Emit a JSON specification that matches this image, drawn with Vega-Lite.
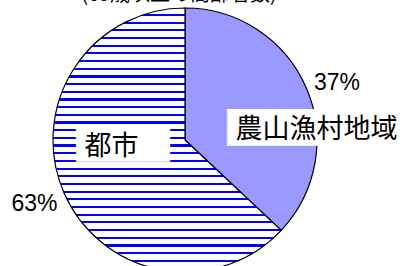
{
  "$schema": "https://vega.github.io/schema/vega-lite/v6.json",
  "width": 264,
  "height": 264,
  "autosize": "none",
  "padding": {"left": 53, "top": 8, "right": 86, "bottom": 0},
  "background": "white",
  "config": {"view": {"stroke": null}},
  "data": {"values": [
    {"region": "農山漁村地域", "share": 37, "label": "37%"},
    {"region": "都市", "share": 63, "label": "63%"}
  ]},
  "layer": [
    {
      "mark": {"type": "arc", "stroke": "#000", "strokeWidth": 1.2},
      "encoding": {
        "theta": {"field": "share", "type": "quantitative", "stack": true},
        "order": {"field": "region", "sort": "ascending"},
        "fill": {
          "condition": {"test": "datum.region === '都市'", "value": {
            "gradient": "linear", "x1": 0, "y1": 0, "x2": 0, "y2": 1,
            "stops": [
              {"offset": 0, "color": "#ffffff"},
              {"offset": 0.0223, "color": "#ffffff"}, {"offset": 0.0223, "color": "#0000ff"}, {"offset": 0.0307, "color": "#0000ff"}, {"offset": 0.0307, "color": "#ffffff"},
              {"offset": 0.0514, "color": "#ffffff"}, {"offset": 0.0514, "color": "#0000ff"}, {"offset": 0.0598, "color": "#0000ff"}, {"offset": 0.0598, "color": "#ffffff"},
              {"offset": 0.0805, "color": "#ffffff"}, {"offset": 0.0805, "color": "#0000ff"}, {"offset": 0.0889, "color": "#0000ff"}, {"offset": 0.0889, "color": "#ffffff"},
              {"offset": 0.1096, "color": "#ffffff"}, {"offset": 0.1096, "color": "#0000ff"}, {"offset": 0.1180, "color": "#0000ff"}, {"offset": 0.1180, "color": "#ffffff"},
              {"offset": 0.1387, "color": "#ffffff"}, {"offset": 0.1387, "color": "#0000ff"}, {"offset": 0.1470, "color": "#0000ff"}, {"offset": 0.1470, "color": "#ffffff"},
              {"offset": 0.1678, "color": "#ffffff"}, {"offset": 0.1678, "color": "#0000ff"}, {"offset": 0.1761, "color": "#0000ff"}, {"offset": 0.1761, "color": "#ffffff"},
              {"offset": 0.1969, "color": "#ffffff"}, {"offset": 0.1969, "color": "#0000ff"}, {"offset": 0.2052, "color": "#0000ff"}, {"offset": 0.2052, "color": "#ffffff"},
              {"offset": 0.2260, "color": "#ffffff"}, {"offset": 0.2260, "color": "#0000ff"}, {"offset": 0.2343, "color": "#0000ff"}, {"offset": 0.2343, "color": "#ffffff"},
              {"offset": 0.2551, "color": "#ffffff"}, {"offset": 0.2551, "color": "#0000ff"}, {"offset": 0.2634, "color": "#0000ff"}, {"offset": 0.2634, "color": "#ffffff"},
              {"offset": 0.2842, "color": "#ffffff"}, {"offset": 0.2842, "color": "#0000ff"}, {"offset": 0.2925, "color": "#0000ff"}, {"offset": 0.2925, "color": "#ffffff"},
              {"offset": 0.3132, "color": "#ffffff"}, {"offset": 0.3132, "color": "#0000ff"}, {"offset": 0.3216, "color": "#0000ff"}, {"offset": 0.3216, "color": "#ffffff"},
              {"offset": 0.3423, "color": "#ffffff"}, {"offset": 0.3423, "color": "#0000ff"}, {"offset": 0.3507, "color": "#0000ff"}, {"offset": 0.3507, "color": "#ffffff"},
              {"offset": 0.3714, "color": "#ffffff"}, {"offset": 0.3714, "color": "#0000ff"}, {"offset": 0.3798, "color": "#0000ff"}, {"offset": 0.3798, "color": "#ffffff"},
              {"offset": 0.4005, "color": "#ffffff"}, {"offset": 0.4005, "color": "#0000ff"}, {"offset": 0.4089, "color": "#0000ff"}, {"offset": 0.4089, "color": "#ffffff"},
              {"offset": 0.4296, "color": "#ffffff"}, {"offset": 0.4296, "color": "#0000ff"}, {"offset": 0.4380, "color": "#0000ff"}, {"offset": 0.4380, "color": "#ffffff"},
              {"offset": 0.4587, "color": "#ffffff"}, {"offset": 0.4587, "color": "#0000ff"}, {"offset": 0.4671, "color": "#0000ff"}, {"offset": 0.4671, "color": "#ffffff"},
              {"offset": 0.4878, "color": "#ffffff"}, {"offset": 0.4878, "color": "#0000ff"}, {"offset": 0.4962, "color": "#0000ff"}, {"offset": 0.4962, "color": "#ffffff"},
              {"offset": 0.5169, "color": "#ffffff"}, {"offset": 0.5169, "color": "#0000ff"}, {"offset": 0.5253, "color": "#0000ff"}, {"offset": 0.5253, "color": "#ffffff"},
              {"offset": 0.5460, "color": "#ffffff"}, {"offset": 0.5460, "color": "#0000ff"}, {"offset": 0.5543, "color": "#0000ff"}, {"offset": 0.5543, "color": "#ffffff"},
              {"offset": 0.5751, "color": "#ffffff"}, {"offset": 0.5751, "color": "#0000ff"}, {"offset": 0.5834, "color": "#0000ff"}, {"offset": 0.5834, "color": "#ffffff"},
              {"offset": 0.6042, "color": "#ffffff"}, {"offset": 0.6042, "color": "#0000ff"}, {"offset": 0.6125, "color": "#0000ff"}, {"offset": 0.6125, "color": "#ffffff"},
              {"offset": 0.6333, "color": "#ffffff"}, {"offset": 0.6333, "color": "#0000ff"}, {"offset": 0.6416, "color": "#0000ff"}, {"offset": 0.6416, "color": "#ffffff"},
              {"offset": 0.6624, "color": "#ffffff"}, {"offset": 0.6624, "color": "#0000ff"}, {"offset": 0.6707, "color": "#0000ff"}, {"offset": 0.6707, "color": "#ffffff"},
              {"offset": 0.6914, "color": "#ffffff"}, {"offset": 0.6914, "color": "#0000ff"}, {"offset": 0.6998, "color": "#0000ff"}, {"offset": 0.6998, "color": "#ffffff"},
              {"offset": 0.7205, "color": "#ffffff"}, {"offset": 0.7205, "color": "#0000ff"}, {"offset": 0.7289, "color": "#0000ff"}, {"offset": 0.7289, "color": "#ffffff"},
              {"offset": 0.7496, "color": "#ffffff"}, {"offset": 0.7496, "color": "#0000ff"}, {"offset": 0.7580, "color": "#0000ff"}, {"offset": 0.7580, "color": "#ffffff"},
              {"offset": 0.7787, "color": "#ffffff"}, {"offset": 0.7787, "color": "#0000ff"}, {"offset": 0.7871, "color": "#0000ff"}, {"offset": 0.7871, "color": "#ffffff"},
              {"offset": 0.8078, "color": "#ffffff"}, {"offset": 0.8078, "color": "#0000ff"}, {"offset": 0.8162, "color": "#0000ff"}, {"offset": 0.8162, "color": "#ffffff"},
              {"offset": 0.8369, "color": "#ffffff"}, {"offset": 0.8369, "color": "#0000ff"}, {"offset": 0.8453, "color": "#0000ff"}, {"offset": 0.8453, "color": "#ffffff"},
              {"offset": 0.8660, "color": "#ffffff"}, {"offset": 0.8660, "color": "#0000ff"}, {"offset": 0.8744, "color": "#0000ff"}, {"offset": 0.8744, "color": "#ffffff"},
              {"offset": 0.8951, "color": "#ffffff"}, {"offset": 0.8951, "color": "#0000ff"}, {"offset": 0.9035, "color": "#0000ff"}, {"offset": 0.9035, "color": "#ffffff"},
              {"offset": 0.9242, "color": "#ffffff"}, {"offset": 0.9242, "color": "#0000ff"}, {"offset": 0.9326, "color": "#0000ff"}, {"offset": 0.9326, "color": "#ffffff"},
              {"offset": 0.9533, "color": "#ffffff"}, {"offset": 0.9533, "color": "#0000ff"}, {"offset": 0.9616, "color": "#0000ff"}, {"offset": 0.9616, "color": "#ffffff"},
              {"offset": 0.9824, "color": "#ffffff"}, {"offset": 0.9824, "color": "#0000ff"}, {"offset": 0.9907, "color": "#0000ff"}, {"offset": 0.9907, "color": "#ffffff"},
              {"offset": 1, "color": "#ffffff"}
            ]
          }},
          "value": "#9999ff"
        }
      }
    },
    {
      "mark": {"type": "text", "radius": 80, "font": "DejaVu Sans Mono", "fontSize": 31, "fill": "#ffffff", "align": "center", "baseline": "middle", "dx": 11.4, "dy": -26.3},
      "encoding": {
        "theta": {"field": "share", "type": "quantitative", "stack": true},
        "order": {"field": "region", "sort": "ascending"},
        "text": {"condition": {"test": "datum.region === '都市'", "value": "█████"}, "value": ""}
      }
    },
    {
      "mark": {"type": "text", "radius": 110, "font": "DejaVu Sans Mono", "fontSize": 31, "fill": "#ffffff", "align": "center", "baseline": "middle", "dx": 34.5, "dy": 32.7},
      "encoding": {
        "theta": {"field": "share", "type": "quantitative", "stack": true},
        "order": {"field": "region", "sort": "ascending"},
        "text": {"condition": {"test": "datum.region === '農山漁村地域'", "value": "██████████"}, "value": ""}
      }
    },
    {
      "mark": {"type": "text", "radius": 80, "font": "Noto Sans CJK JP", "fontSize": 27, "fill": "#000000", "align": "center", "baseline": "middle", "dx": 0, "dy": -24.8},
      "encoding": {
        "theta": {"field": "share", "type": "quantitative", "stack": true},
        "order": {"field": "region", "sort": "ascending"},
        "text": {"condition": {"test": "datum.region === '都市'", "field": "region", "type": "nominal"}, "value": ""}
      }
    },
    {
      "mark": {"type": "text", "radius": 110, "font": "Noto Sans CJK JP", "fontSize": 27, "fill": "#000000", "align": "center", "baseline": "middle", "dx": 30.5, "dy": 33.2},
      "encoding": {
        "theta": {"field": "share", "type": "quantitative", "stack": true},
        "order": {"field": "region", "sort": "ascending"},
        "text": {"condition": {"test": "datum.region === '農山漁村地域'", "field": "region", "type": "nominal"}, "value": ""}
      }
    },
    {
      "mark": {"type": "text", "radius": 163, "font": "Liberation Sans Narrow, Liberation Sans", "fontSize": 23, "fill": "#000000", "align": "center", "baseline": "middle", "dx": 2.4, "dy": 8},
      "encoding": {
        "theta": {"field": "share", "type": "quantitative", "stack": true},
        "order": {"field": "region", "sort": "ascending"},
        "text": {"condition": {"test": "datum.region === '農山漁村地域'", "field": "label", "type": "nominal"}, "value": ""}
      }
    },
    {
      "mark": {"type": "text", "radius": 163, "font": "Liberation Sans Narrow, Liberation Sans", "fontSize": 23, "fill": "#000000", "align": "center", "baseline": "middle", "dx": -1, "dy": -0.7},
      "encoding": {
        "theta": {"field": "share", "type": "quantitative", "stack": true},
        "order": {"field": "region", "sort": "ascending"},
        "text": {"condition": {"test": "datum.region === '都市'", "field": "label", "type": "nominal"}, "value": ""}
      }
    },
    {
      "data": {"values": [{"caption": "(65歳以上の高齢者数)"}]},
      "mark": {"type": "text", "radius": 139, "font": "Noto Sans CJK JP", "fontSize": 20, "fill": "#000000", "align": "center", "baseline": "alphabetic", "dx": -6},
      "encoding": {
        "theta": {"datum": 0, "type": "quantitative"},
        "text": {"field": "caption", "type": "nominal"}
      }
    }
  ]
}
